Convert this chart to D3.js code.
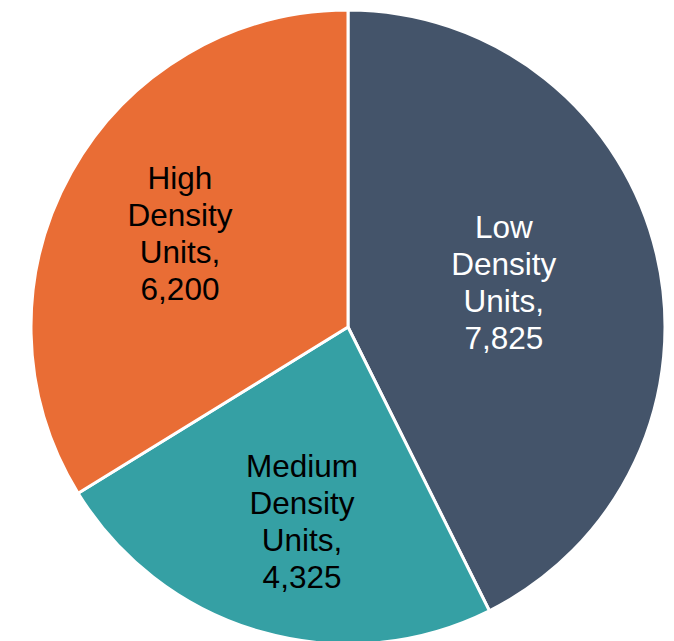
<!DOCTYPE html>
<html>
<head>
<meta charset="utf-8">
<script src="https://cdn.jsdelivr.net/npm/d3@7"></script>
<style>
  html, body { margin: 0; padding: 0; background: #fff; overflow: hidden; }
  text { font-family: "Liberation Sans", Arial, sans-serif; }
</style>
</head>
<body>
<div id="pieChart"></div>
<script>
// data
var categories = ["Low Density Units", "Medium Density Units", "High Density Units"];
var values = [7825, 4325, 6200];
var labelLines = [
    ["Low", "Density", "Units,"],
    ["Medium", "Density", "Units,"],
    ["High", "Density", "Units,"]
];

var colors = ["#44546A", "#35A0A4", "#E96D35"];
var textColors = ["#ffffff", "#000000", "#000000"];
// where each label sits, as a share of the radius (best fit like the original)
var labelRadius = [0.505, 0.643, 0.607];
// small pixel nudges [dx, dy] on top of that
var labelNudge = [[0, -8], [10, -2], [0, 0]];

var width = 674, height = 641;
var cx = 348, cy = 327, radius = 317;

var svg = d3.select("#pieChart")
    .append("svg")
        .attr("width", width)
        .attr("height", height);

var g = svg.append("g")
    .attr("transform", "translate(" + cx + "," + cy + ")");

var data = categories.map(function(c, i) { return { name: c, value: values[i], i: i }; });

var pie = d3.pie()
    .value(function(d) { return d.value; })
    .sort(null);

var arc = d3.arc()
    .innerRadius(0)
    .outerRadius(radius);

var arcs = pie(data);

// slices
g.selectAll("path")
    .data(arcs)
    .enter()
    .append("path")
        .attr("d", arc)
        .attr("fill", function(d) { return colors[d.data.i]; })
        .attr("stroke", "#ffffff")
        .attr("stroke-width", 3)
        .attr("stroke-linejoin", "round");

var fmt = d3.format(",");
var lineH = 37;

// labels
arcs.forEach(function(d) {
    var i = d.data.i;
    var r = radius * labelRadius[i];
    var pos = d3.arc().innerRadius(r).outerRadius(r).centroid(d);
    var px = pos[0] + labelNudge[i][0], py = pos[1] + labelNudge[i][1];
    var lines = labelLines[i].concat([fmt(d.data.value)]);
    var t = g.append("text")
        .attr("text-anchor", "middle")
        .attr("fill", textColors[i])
        .style("font-size", "31.5px");
    var y0 = py - (lines.length - 1) * lineH / 2;
    lines.forEach(function(l, k) {
        t.append("tspan")
            .attr("x", px)
            .attr("y", y0 + k * lineH)
            .attr("dy", "0.35em")
            .text(l);
    });
});
</script>
</body>
</html>
